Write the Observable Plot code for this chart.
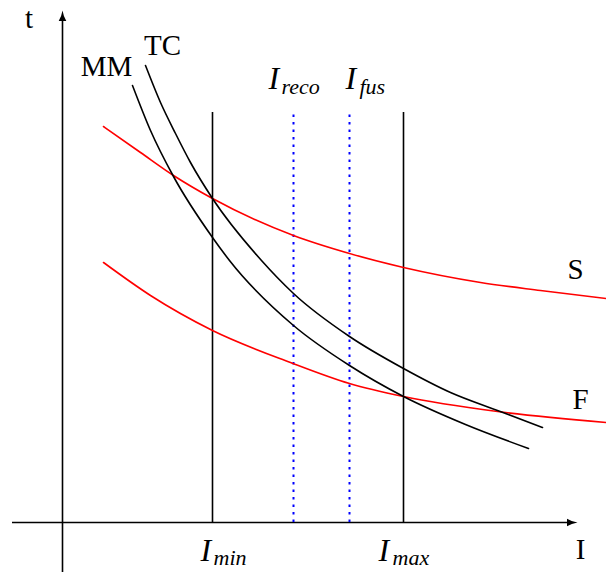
<!DOCTYPE html>
<html><head><meta charset="utf-8">
<script src="https://cdn.jsdelivr.net/npm/d3@7"></script>
<script src="https://cdn.jsdelivr.net/npm/@observablehq/plot@0.6"></script>
<style>body{margin:0;background:#fff}</style>
</head><body><div id="chart"></div>
<script>
// Curves: current I (horizontal) and time t (vertical), arbitrary units
const tcCurrent = [83, 98, 113, 128, 150, 199, 231, 287, 341, 388, 435, 480];
const tcTime    = [457, 420, 389, 360, 324, 262, 229, 186, 154, 130, 112, 95];
const mmCurrent = [70, 88, 111, 150, 167, 231, 287, 341, 403, 466];
const mmTime    = [437, 392, 346, 285, 262, 197, 157, 126, 98, 74];
const sCurrent  = [41, 78, 111, 150, 231, 287, 341, 418, 478, 544];
const sTime     = [396, 370, 347, 324, 287, 269, 255, 240, 232, 224];
const fCurrent  = [41, 88, 150, 228, 287, 341, 435, 544];
const fTime     = [260, 227, 192, 160, 139, 126, 111, 100];

// Vertical markers
const limitNames = ["min", "max"];
const limitCurrent = [150, 341];
const thresholdNames = ["reco", "fus"];
const thresholdCurrent = [231, 287];
const markerTop = 410;

const zip = (xs, ys) => xs.map((x, i) => ({I: x, t: ys[i]}));
const tc = zip(tcCurrent, tcTime);
const mm = zip(mmCurrent, mmTime);
const sCurve = zip(sCurrent, sTime);
const fCurve = zip(fCurrent, fTime);

const arrowUp = {draw(ctx) {
  ctx.moveTo(0, 0);
  ctx.quadraticCurveTo(1, 6, 3.8, 10.5);
  ctx.lineTo(-3.8, 10.5);
  ctx.quadraticCurveTo(-1, 6, 0, 0);
  ctx.closePath();
}};
const arrowRight = {draw(ctx) {
  ctx.moveTo(0, 0);
  ctx.quadraticCurveTo(-6, 1, -10.5, 3.8);
  ctx.lineTo(-10.5, -3.8);
  ctx.quadraticCurveTo(-6, -1, 0, 0);
  ctx.closePath();
}};

const mathLabels = [
  {main: "I", sub: limitNames[0], x: 138, sx: 151, y: -38, sy: -42},
  {main: "I", sub: limitNames[1], x: 316, sx: 330, y: -38, sy: -42},
  {main: "I", sub: thresholdNames[0], x: 206, sx: 219, y: 434, sy: 429},
  {main: "I", sub: thresholdNames[1], x: 283, sx: 297, y: 434, sy: 429}
];
const plainLabels = [
  {text: "MM", x: 44, y: 447},
  {text: "TC", x: 100, y: 468},
  {text: "S", x: 513, y: 244},
  {text: "F", x: 518, y: 114},
  {text: "t", x: -33.5, y: 495},
  {text: "I", x: 518, y: -36}
];

const font = "'Liberation Serif', 'DejaVu Serif', serif";

const chart = Plot.plot({
  width: 606,
  height: 574,
  margin: 0,
  x: {domain: [-62, 544], axis: null},
  y: {domain: [-52, 522], axis: null},
  style: {fontFamily: font, background: "white"},
  marks: [
    // axes
    Plot.ruleY([0], {x1: -50, x2: 508, stroke: "black", strokeWidth: 1.6}),
    Plot.ruleX([0], {y1: -50, y2: 504, stroke: "black", strokeWidth: 1.6}),
    Plot.dot([{I: 515, t: 0}], {x: "I", y: "t", symbol: arrowRight, fill: "black", stroke: "none"}),
    Plot.dot([{I: 0, t: 512}], {x: "I", y: "t", symbol: arrowUp, fill: "black", stroke: "none"}),
    // vertical markers
    Plot.ruleX(limitCurrent, {y1: 0, y2: markerTop, stroke: "black", strokeWidth: 1.6}),
    Plot.ruleX(thresholdCurrent, {y1: 0, y2: markerTop, stroke: "blue", strokeWidth: 2, strokeDasharray: "2.5,5"}),
    // curves
    Plot.line(sCurve, {x: "I", y: "t", curve: "monotone-x", stroke: "red", strokeWidth: 1.6}),
    Plot.line(fCurve, {x: "I", y: "t", curve: "monotone-x", stroke: "red", strokeWidth: 1.6}),
    Plot.line(tc, {x: "I", y: "t", curve: "monotone-x", stroke: "black", strokeWidth: 1.6}),
    Plot.line(mm, {x: "I", y: "t", curve: "monotone-x", stroke: "black", strokeWidth: 1.6}),
    // labels
    Plot.text(plainLabels, {x: "x", y: "y", text: "text", fontSize: 29, textAnchor: "middle", lineAnchor: "bottom", fill: "black"}),
    Plot.text(mathLabels, {x: "x", y: "y", text: "main", fontSize: 32, fontStyle: "italic", textAnchor: "start", lineAnchor: "bottom", fill: "black"}),
    Plot.text(mathLabels, {x: "sx", y: "sy", text: "sub", fontSize: 22, fontStyle: "italic", textAnchor: "start", lineAnchor: "bottom", fill: "black"})
  ]
});
document.getElementById("chart").appendChild(chart);
</script>
</body></html>
